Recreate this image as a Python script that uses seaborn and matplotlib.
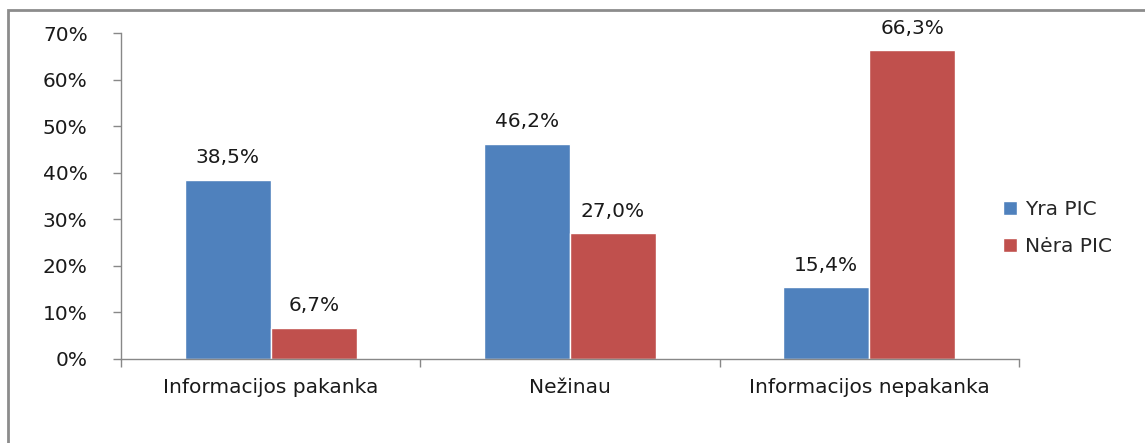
import matplotlib
matplotlib.use("Agg")
import matplotlib.pyplot as plt
import matplotlib.patches as mpatches
import pandas as pd
import seaborn as sns

categories = ["Informacijos pakanka", "Nežinau", "Informacijos nepakanka"]
series = ["Yra PIC", "Nėra PIC"]
yra_pic = [38.5, 46.2, 15.4]
nera_pic = [6.7, 27.0, 66.3]

df = pd.DataFrame({
    "kategorija": categories * 2,
    "grupe": [series[0]] * 3 + [series[1]] * 3,
    "reiksme": yra_pic + nera_pic,
})

sns.set_theme(style="white")
plt.rcParams["font.family"] = ["DejaVu Sans"]
fs = 14.5
txt = "#1a1a1a"

fig = plt.figure(figsize=(11.45, 4.43), dpi=100)
ax = fig.add_axes([121 / 1145, 1 - 359 / 443, (1019 - 121) / 1145, (359 - 33) / 443])

sns.barplot(data=df, x="kategorija", y="reiksme", hue="grupe", order=categories,
            hue_order=series, palette=["#4F81BD", "#C0504D"], width=0.575,
            saturation=1, ax=ax, legend=True)

for cont in ax.containers:
    ax.bar_label(cont, labels=[f"{v:.1f}%".replace(".", ",") for v in cont.datavalues],
                 padding=9, fontsize=fs, color=txt)

ax.set_ylim(0, 70)
ax.set_xlim(-0.5, 2.5)
ax.set_yticks(range(0, 71, 10))
ax.set_yticklabels([f"{v}%" for v in range(0, 71, 10)], fontsize=fs, color=txt)
ax.set_xticks(range(3))
ax.set_xticklabels(categories, fontsize=fs, color=txt)
ax.set_xticks([-0.5, 0.5, 1.5, 2.5], minor=True)
ax.tick_params(axis="x", which="major", length=0, pad=14)
ax.tick_params(axis="x", which="minor", length=6, color="#888888", width=1, direction="out")
ax.tick_params(axis="y", length=6, color="#888888", width=1, direction="out", pad=18)
ax.tick_params(left=True, bottom=True, which="both")
ax.set_xlabel("")
ax.set_ylabel("")
for s in ["top", "right"]:
    ax.spines[s].set_visible(False)
for s in ["left", "bottom"]:
    ax.spines[s].set_color("#888888")
    ax.spines[s].set_linewidth(1)

ax.legend(loc="center left", bbox_to_anchor=(985 / 1145, 1 - 228 / 443),
          bbox_transform=fig.transFigure, frameon=False, fontsize=fs,
          handlelength=0.7, handleheight=0.7, handletextpad=0.4, labelspacing=0.9)

fig.patches.append(mpatches.Rectangle((8 / 1145, -0.1), 1.2, 1.1 - 10 / 443,
                                      transform=fig.transFigure, fill=False,
                                      edgecolor="#8c8c8c", linewidth=2))

fig.savefig("out.png", dpi=100)
